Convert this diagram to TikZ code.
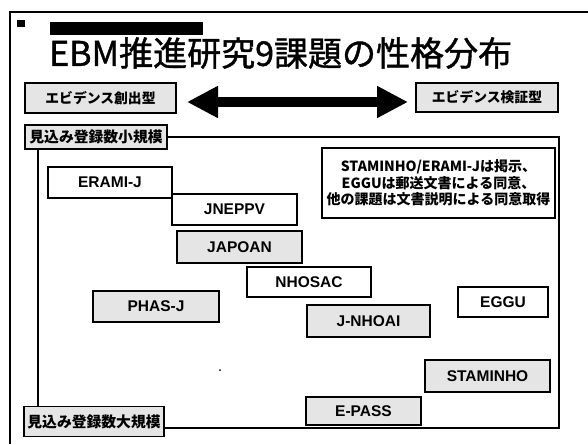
\documentclass[tikz,border=0pt]{standalone}
\usepackage{fontspec}
\setmainfont{Liberation Sans}
\newfontfamily\jp{Noto Sans CJK JP}
\newfontfamily\jptitle{Noto Sans CJK JP}[FakeBold=1.2]
\usetikzlibrary{arrows.meta}
\begin{document}
\begin{tikzpicture}[x=1pt,y=-1pt,
  lbl/.style={draw, line width=1.3pt, inner sep=0pt, font=\fontsize{15.5}{17}\selectfont\bfseries},
  plainlbl/.style={lbl, fill=white},
  graylbl/.style={lbl, fill=gray!20, line width=1.6pt},
  jplbl/.style={draw, line width=1.8pt, fill=gray!20, inner sep=0pt, font=\jp\bfseries\fontsize{13.8}{16}\selectfont},
  scalelbl/.style={jplbl, font=\jp\bfseries\fontsize{14.8}{16}\selectfont},
  framel/.style={line width=1.3pt},
  notebox/.style={draw, line width=1.3pt, fill=white, inner sep=0pt, align=center, font=\jp\bfseries\fontsize{14}{16.5}\selectfont}]
\useasboundingbox (0,0) rectangle (588,444);
% outer frame
\draw[line width=2.5pt] (10,444) -- (10,12) -- (588,12);
% header marks
\fill (17,20) rectangle (25,27);
\fill (50,22) rectangle (203,35);
% title
\node[font=\jptitle\fontsize{34}{40}\selectfont, anchor=west, inner sep=0pt] (title) at (49,53) {EBM推進研究9課題の性格分布};
% evidence type boxes and arrow
\node[jplbl, minimum width=151pt, minimum height=30pt] (evL) at (100.5,98) {エビデンス創出型};
\node[jplbl, minimum width=142pt, minimum height=29pt] (evR) at (487,97.5) {エビデンス検証型};
\coordinate (arL) at (187,102);
\coordinate (arR) at (408,102);
\draw[line width=10pt, {Triangle[length=31pt,width=30pt]}-{Triangle[length=31pt,width=30pt]}] (arL) -- (arR);
% scale boxes and inner frame
\node[scalelbl, minimum width=142pt, minimum height=24pt] (small) at (96,137) {見込み登録数小規模};
\node[scalelbl, minimum width=140pt, minimum height=30pt] (big) at (94,421.5) {見込み登録数大規模};
\coordinate (TR) at (559,137);
\coordinate (BR) at (559,428);
\coordinate (L) at (38,0);
\draw[framel] (small.east) -- (TR) -- (BR) -- (big.east |- BR);
\draw[framel] (small.south -| L) -- (big.north -| L);
% note
\node[notebox, minimum width=233pt, minimum height=70pt] (note) at (438.5,183) {STAMINHO/ERAMI-Jは掲示、\\EGGUは郵送文書による同意、\\他の課題は文書説明による同意取得};
% studies
\node[plainlbl, minimum width=124pt, minimum height=31pt] (erami) at (110,182.5) {ERAMI-J};
\node[plainlbl, minimum width=125pt, minimum height=31pt] (jneppv) at (234.5,209.5) {JNEPPV};
\node[graylbl, minimum width=125pt, minimum height=32pt] (japoan) at (239.5,247) {JAPOAN};
\node[plainlbl, minimum width=124pt, minimum height=30pt] (nhosac) at (309,282) {NHOSAC};
\node[graylbl, minimum width=126pt, minimum height=31pt] (phasj) at (156,306.5) {PHAS-J};
\node[plainlbl, minimum width=90pt, minimum height=30pt] (eggu) at (503,302) {EGGU};
\node[graylbl, minimum width=123pt, minimum height=32pt] (jnhoai) at (368.5,321) {J-NHOAI};
\node[graylbl, minimum width=125pt, minimum height=32pt] (stam) at (487.5,376) {STAMINHO};
\node[graylbl, minimum width=115pt, minimum height=28pt] (epass) at (363.5,411) {E-PASS};
\fill (220,370) circle (1pt);
\end{tikzpicture}
\end{document}
